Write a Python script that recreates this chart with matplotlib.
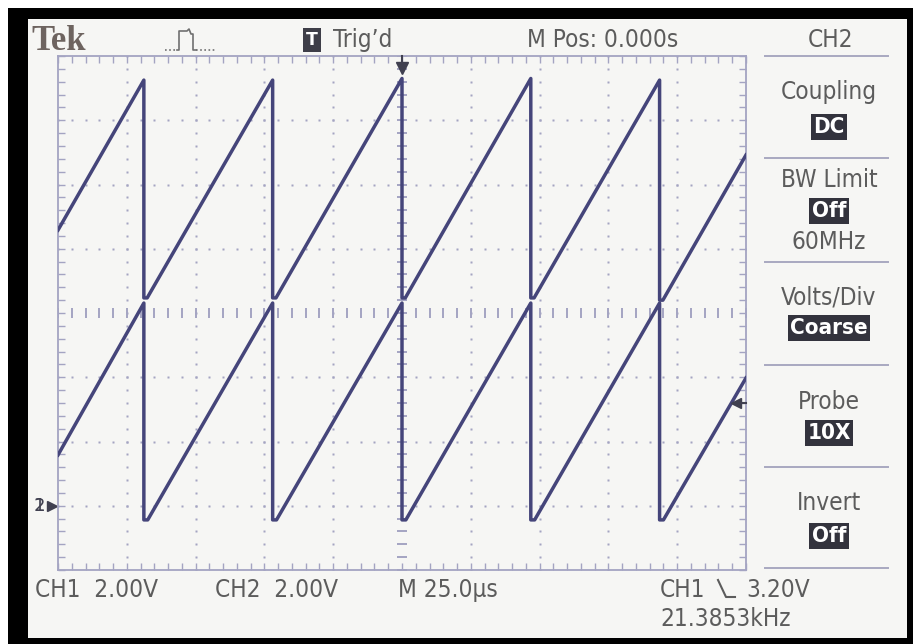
import matplotlib
matplotlib.use("Agg")
import matplotlib.pyplot as plt
import numpy as np
from matplotlib.lines import Line2D
from matplotlib.patches import Rectangle

# scope settings
volts_per_div = 2.0
us_per_div = 25.0
ground_div = -3.0          # both channel ground markers sit 3 div below centre
trigger_level = 3.2        # V, CH1 falling edge

# upper trace (vertices: time in us, volts)
upper_t = [-125, -93.8, -93.8, -92.6, -47.0, -47.0, -45.8, 0.0, 0.0, 1.2,
           46.8, 46.8, 48.0, 93.6, 93.6, 94.8, 125]
upper_v = [8.58, 13.25, 6.47, 6.47, 13.25, 6.47, 6.47, 13.3, 6.47, 6.47,
           13.3, 6.47, 6.47, 13.25, 6.40, 6.40, 10.92]

# lower trace
lower_t = [-125, -93.8, -93.8, -92.4, -47.0, -47.0, -45.6, 0.0, 0.0, 1.4,
           46.8, 46.8, 48.2, 93.6, 93.6, 95.0, 125]
lower_v = [1.58, 6.31, -0.44, -0.44, 6.31, -0.44, -0.44, 6.31, -0.44, -0.44,
           6.31, -0.44, -0.44, 6.31, -0.44, -0.44, 3.98]

W, H = 913, 644
fig = plt.figure(figsize=(W / 100, H / 100), dpi=100)
fig.patch.set_facecolor("black")

def fx(x):
    return x / W

def fy(y):
    return 1 - y / H

# white screen area behind everything
fig.patches.append(Rectangle((fx(28), fy(638)), fx(907) - fx(28), fy(19) - fy(638),
                             transform=fig.transFigure, facecolor="#f6f6f4",
                             edgecolor="none", zorder=-5))
fig.patches.append(Rectangle((0, fy(8)), 1, 1 - fy(8), transform=fig.transFigure,
                             facecolor="white", edgecolor="none", zorder=-5))
fig.patches.append(Rectangle((0, 0), fx(8), 1, transform=fig.transFigure,
                             facecolor="white", edgecolor="none", zorder=-5))

grid_col = "#a4a4c2"
trace_col = "#45457a"
text_col = "#5c5c5c"
narrow = ["DejaVu Sans"]
fs = 17.5

ax = fig.add_axes([fx(58), fy(570), fx(746) - fx(58), fy(56) - fy(570)])
ax.set_zorder(2)
ax.set_facecolor("#f6f6f4")
ax.set_xlim(-5 * us_per_div, 5 * us_per_div)
ax.set_ylim(-4, 4)

# frame ticks on every minor division
ax.set_xticks(np.arange(-125, 125.1, 5))
ax.set_yticks(np.arange(-4, 4.01, 0.2))
ax.tick_params(direction="in", length=5, width=1, color=grid_col,
               top=True, right=True, labelbottom=False, labelleft=False)
for s in ax.spines.values():
    s.set_color(grid_col)
    s.set_linewidth(1.3)

# dotted graticule
xs_minor = np.arange(-125, 125.1, 5)
ys_minor = np.arange(-4, 4.01, 0.2)
for gx in np.arange(-100, 101, 25):
    if gx == 0:
        continue
    ax.plot(np.full_like(ys_minor, gx), ys_minor, ls="none", marker="s",
            ms=1.6, color=grid_col, mec="none")
for gy in [-3, -2, -1, 1, 2, 3]:
    ax.plot(xs_minor, np.full_like(xs_minor, gy), ls="none", marker="s",
            ms=1.6, color=grid_col, mec="none")
# centre cross with short dashes
ax.plot(xs_minor, np.zeros_like(xs_minor), ls="none", marker="|", ms=7,
        mew=1.4, color=grid_col)
ax.plot(np.zeros_like(ys_minor), ys_minor, ls="none", marker="_", ms=7,
        mew=1.4, color=grid_col)

# traces
ax.plot(upper_t, [v / volts_per_div + ground_div for v in upper_v],
        color=trace_col, lw=2.5, solid_joinstyle="round", zorder=5)
ax.plot(lower_t, [v / volts_per_div + ground_div for v in lower_v],
        color=trace_col, lw=2.5, solid_joinstyle="round", zorder=5)

# trigger position and level markers
ax.plot([0], [3.82], marker="v", ms=9, color="#404050", clip_on=False, zorder=6)
ax.plot([0, 0], [3.82, 4.0], color="#404050", lw=1.5, clip_on=False, zorder=6)
lvl = trigger_level / volts_per_div + ground_div
ax.plot([121.5], [lvl], marker="<", ms=7, color="#404050", clip_on=False, zorder=6)
ax.plot([121.5, 125], [lvl, lvl], color="#404050", lw=1.5, clip_on=False, zorder=6)
# ground markers
ax.plot([-127], [ground_div], marker=">", ms=7, color="#404050", clip_on=False)
ax.text(-129.5, ground_div, "2", ha="right", va="center", fontsize=13,
        color="#404050", family=narrow, clip_on=False)
ax.text(-129.5, ground_div, "1", ha="right", va="center", fontsize=13,
        color="#404050", family=narrow, clip_on=False)

# header
fig.text(fx(31), fy(41), "Tek", fontsize=25, family="Liberation Serif",
         weight="bold", color="#6e6460", va="center")
fig.add_artist(Line2D([fx(165), fx(177)], [fy(50), fy(50)],
                      transform=fig.transFigure, color="#707070", lw=1.2,
                      ls=(0, (1, 1.5))))
fig.add_artist(Line2D([fx(v) for v in [177, 179, 179, 187, 189, 191, 193, 193, 196]],
                      [fy(v) for v in [50, 50, 31, 31, 29, 34, 34, 50, 50]],
                      transform=fig.transFigure, color="#707070", lw=1.2))
fig.add_artist(Line2D([fx(196), fx(215)], [fy(50), fy(50)],
                      transform=fig.transFigure, color="#707070", lw=1.2,
                      ls=(0, (1, 1.5))))
fig.text(fx(312), fy(40), "T", fontsize=12.5, weight="bold", color="white",
         ha="center", va="center", family=narrow,
         bbox=dict(boxstyle="square,pad=0.2", fc="#3e3e48", ec="none"))
fig.text(fx(333), fy(40), "Trig\u2019d", fontsize=fs, color=text_col,
         va="center", family=narrow, stretch="condensed")
fig.text(fx(527), fy(40), "M Pos: 0.000s", fontsize=fs, color=text_col,
         va="center", family=narrow, stretch="condensed")
fig.text(fx(830), fy(40), "CH2", fontsize=fs, color=text_col,
         ha="center", va="center", family=narrow, stretch="condensed")

# side menu
for yy in [56, 158, 262, 365, 467, 568]:
    fig.add_artist(Line2D([fx(765), fx(888)], [fy(yy), fy(yy)],
                          transform=fig.transFigure, color="#a8a8c0", lw=1.4))
menu = [("Coupling", 92, "DC", 127, None),
        ("BW Limit", 180, "Off", 211, ("60MHz", 242)),
        ("Volts/Div", 298, "Coarse", 328, None),
        ("Probe", 402, "10X", 433, None),
        ("Invert", 503, "Off", 536, None)]
for title, ty, val, vy, extra in menu:
    fig.text(fx(829), fy(ty), title, fontsize=fs, color=text_col,
             ha="center", va="center", family=narrow, stretch="condensed")
    fig.text(fx(829), fy(vy), val, fontsize=16, color="white", weight="bold",
             ha="center", va="center", family=narrow, stretch="condensed",
             bbox=dict(boxstyle="square,pad=0.12", fc="#33333d", ec="none"))
    if extra:
        fig.text(fx(829), fy(extra[1]), extra[0], fontsize=fs, color=text_col,
                 ha="center", va="center", family=narrow, stretch="condensed")

# footer
fig.text(fx(35), fy(590), "CH1  2.00V", fontsize=fs, color=text_col,
         va="center", family=narrow, stretch="condensed")
fig.text(fx(215), fy(590), "CH2  2.00V", fontsize=fs, color=text_col,
         va="center", family=narrow, stretch="condensed")
fig.text(fx(398), fy(590), "M 25.0\u03bcs", fontsize=fs, color=text_col,
         va="center", family=narrow, stretch="condensed")
fig.text(fx(660), fy(590), "CH1", fontsize=fs, color=text_col,
         va="center", family=narrow, stretch="condensed")
sx = [718, 726, 735]
sy = [580, 597, 597]
fig.add_artist(Line2D([fx(v) for v in sx], [fy(v) for v in sy],
                      transform=fig.transFigure, color=text_col, lw=1.5))
fig.text(fx(746), fy(590), "3.20V", fontsize=fs, color=text_col,
         va="center", family=narrow, stretch="condensed")
fig.text(fx(660), fy(619), "21.3853kHz", fontsize=fs, color=text_col,
         va="center", family=narrow, stretch="condensed")

fig.savefig("out.png", dpi=100, facecolor=fig.get_facecolor())
